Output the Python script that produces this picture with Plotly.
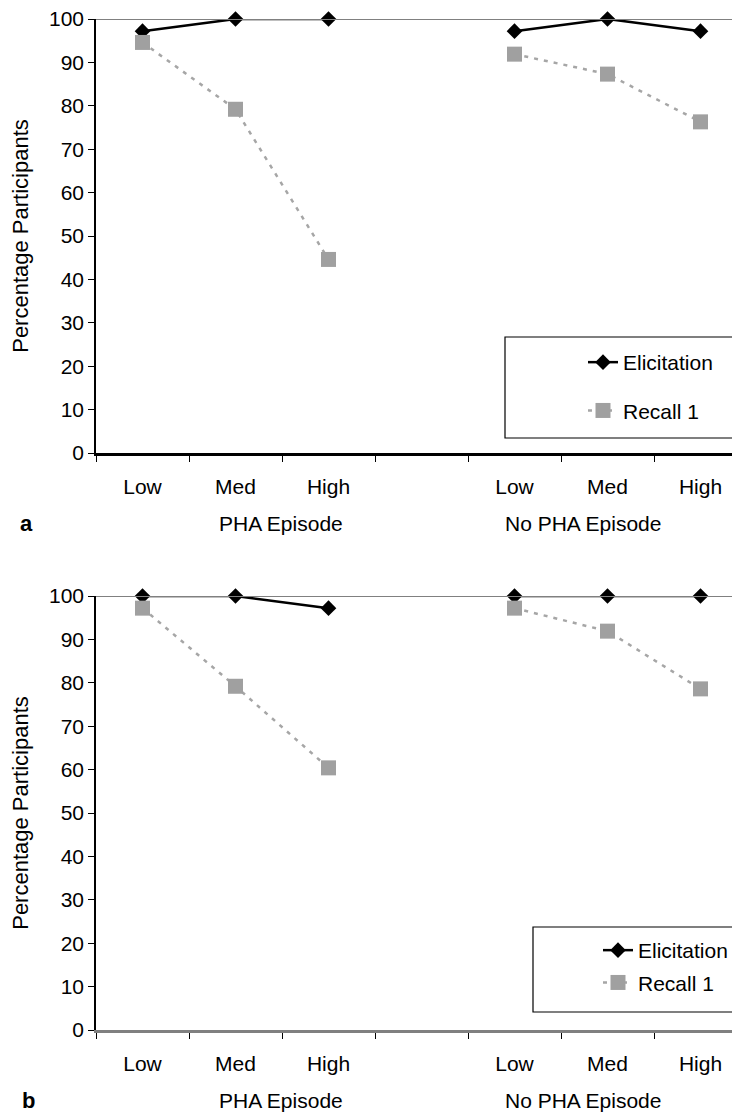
import plotly.graph_objects as go

# ---- data ----
cat_labels = ["Low", "Med", "High", "", "Low", "Med", "High"]
cat_pos = [0, 1, 2, 3, 4, 5, 6]
group_labels = ["PHA Episode", "No PHA Episode"]
group_pos = [1.49, 4.74]
y_ticks = [0, 10, 20, 30, 40, 50, 60, 70, 80, 90, 100]

elicitation_a = [97.2, 100, 100, None, 97.2, 100, 97.2]
recall1_a = [94.6, 79.2, 44.6, None, 91.9, 87.3, 76.3]
elicitation_b = [100, 100, 97.2, None, 100, 100, 100]
recall1_b = [97.2, 79.2, 60.4, None, 97.2, 91.9, 78.6]

panel_letters = ["a", "b"]
series_names = ["Elicitation", "Recall 1"]

# ---- layout constants (page body has an 8px margin) ----
OFF = 8
W, H = 740 - OFF, 1115 - OFF
L = 96 - OFF
PW = W - L
FONT = "Liberation Sans, Arial, sans-serif"
FS = 21


def px_x(p):
    return (p - OFF - L) / PW


def px_y(p):
    return 1 - (p - OFF) / H


def ydom(top_px, bot_px):
    return [px_y(bot_px), px_y(top_px)]


dom_a = ydom(19, 453)
dom_b = ydom(596, 1030)

fig = go.Figure()


def add_panel(elic, rec, xa, ya, leg):
    fig.add_trace(go.Scatter(
        x=cat_pos, y=elic, xaxis=xa, yaxis=ya, name=series_names[0],
        mode="lines+markers", connectgaps=False, cliponaxis=False,
        line=dict(color="black", width=2.5),
        marker=dict(symbol="diamond", size=12, color="black"),
        legend=leg, legendgroup=leg + "e"))
    fig.add_trace(go.Scatter(
        x=cat_pos, y=rec, xaxis=xa, yaxis=ya, name=series_names[1],
        mode="lines+markers", connectgaps=False, cliponaxis=False,
        line=dict(color="#a6a6a6", width=2.5, dash="4px,6px"),
        marker=dict(symbol="square", size=15, color="#a0a0a0"),
        legend=leg, legendgroup=leg + "r"))


add_panel(elicitation_a, recall1_a, "x", "y", "legend")
add_panel(elicitation_b, recall1_b, "x2", "y2", "legend2")

xrange = [-0.5, -0.5 + PW / 93.0]
bounds = [c - 0.5 for c in cat_pos]


def xaxis_cfg(linecolor, anchor):
    return dict(
        domain=[0, 1], range=xrange, anchor=anchor,
        tickmode="array", tickvals=cat_pos, ticktext=cat_labels,
        ticks="outside", ticklen=13, tickcolor="rgba(0,0,0,0)",
        showline=True, linecolor=linecolor, linewidth=2.5,
        showgrid=False, zeroline=False, automargin=False,
        ticklabeloverflow="allow",
        tickfont=dict(family=FONT, size=FS, color="black"),
        minor=dict(tickmode="array", tickvals=bounds, ticks="outside",
                   ticklen=6, tickwidth=1, tickcolor="black", showgrid=False),
    )


def yaxis_cfg(dom, anchor):
    return dict(
        domain=dom, range=[0, 100], anchor=anchor,
        tickmode="array", tickvals=y_ticks,
        ticks="outside", ticklen=6, tickwidth=1, tickcolor="black",
        showline=True, linecolor="black", linewidth=1.5,
        showgrid=False, zeroline=False, automargin=False,
        ticklabeloverflow="allow",
        tickfont=dict(family=FONT, size=FS, color="black"),
        title=dict(text="Percentage Participants", standoff=30,
                   font=dict(family=FONT, size=22, color="black")),
    )


fig.update_layout(
    width=W, height=H,
    margin=dict(l=L, r=0, t=0, b=0),
    paper_bgcolor="white", plot_bgcolor="white",
    font=dict(family=FONT, size=FS, color="black"),
    xaxis=xaxis_cfg("black", "y"),
    yaxis=yaxis_cfg(dom_a, "x"),
    xaxis2=xaxis_cfg("#808080", "y2"),
    yaxis2=yaxis_cfg(dom_b, "x2"),
    legend=dict(x=px_x(583), y=px_y(342), xref="paper", yref="paper",
                xanchor="left", yanchor="top", bgcolor="rgba(0,0,0,0)",
                borderwidth=0, tracegroupgap=18, traceorder="grouped",
                font=dict(family=FONT, size=FS, color="black")),
    legend2=dict(x=px_x(598), y=px_y(930), xref="paper", yref="paper",
                 xanchor="left", yanchor="top", bgcolor="rgba(0,0,0,0)",
                 borderwidth=0, tracegroupgap=2, traceorder="grouped",
                 font=dict(family=FONT, size=FS, color="black")),
)

# top gray line at 100
for xr, yr in [("x domain", "y"), ("x2 domain", "y2")]:
    fig.add_shape(type="line", xref=xr, yref=yr, x0=0, x1=1, y0=100, y1=100,
                  line=dict(color="#808080", width=2))

# legend frames
fig.add_shape(type="rect", xref="paper", yref="paper",
              x0=px_x(505), x1=px_x(737), y0=px_y(438), y1=px_y(337),
              line=dict(color="black", width=1.2), fillcolor="rgba(0,0,0,0)")
fig.add_shape(type="rect", xref="paper", yref="paper",
              x0=px_x(533), x1=px_x(737), y0=px_y(1012), y1=px_y(927),
              line=dict(color="black", width=1.2), fillcolor="rgba(0,0,0,0)")

# group labels
for xa, ypx in [("x", 523), ("x2", 1100)]:
    for g, gx in zip(group_labels, group_pos):
        fig.add_annotation(x=gx, xref=xa, y=px_y(ypx), yref="paper",
                           yanchor="middle", text=g, showarrow=False,
                           font=dict(family=FONT, size=FS, color="black"))

# panel letters
for letter, ypx, xpx in zip(panel_letters, [523, 1100], [18, 20]):
    fig.add_annotation(x=px_x(xpx), xref="paper", y=px_y(ypx), yref="paper",
                       yanchor="middle", text="<b>%s</b>" % letter,
                       showarrow=False,
                       font=dict(family=FONT, size=22, color="black"))

fig.write_html("out.html")
